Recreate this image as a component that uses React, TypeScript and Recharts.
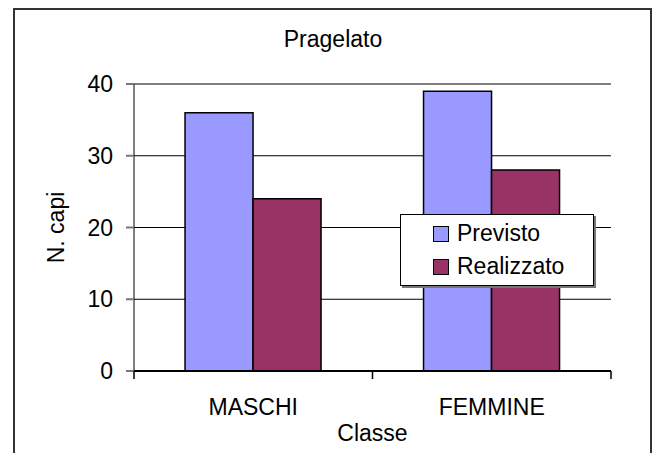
import { BarChart, Bar, XAxis, YAxis, CartesianGrid, Legend } from "recharts";

const categories = ["MASCHI", "FEMMINE"];
const previsto = [36, 39];
const realizzato = [24, 28];
const yTicks = [0, 10, 20, 30, 40];

const data = categories.map((c, i) => ({
  classe: c,
  previsto: previsto[i],
  realizzato: realizzato[i],
}));

const font = "'Liberation Sans', Arial, sans-serif";
const fs = 23;
const xTickMargin = 28;

const series = [
  { key: "previsto", name: "Previsto", color: "#9999FF" },
  { key: "realizzato", name: "Realizzato", color: "#993366" },
];

// category label plus the Excel-style tick marks on the category boundaries
function CategoryTick(props: any) {
  const { x, y, payload, index } = props;
  const half = payload.offset || 0;
  const axisY = y - xTickMargin;
  return (
    <g>
      <line x1={x + half} x2={x + half} y1={axisY} y2={axisY + 8} stroke="#000" strokeWidth={1.5} />
      {index === 0 && (
        <line x1={x - half} x2={x - half} y1={axisY} y2={axisY + 8} stroke="#000" strokeWidth={1.5} />
      )}
      <text x={x} y={y} dy="0.71em" textAnchor="middle" fill="#000" fontSize={fs} fontFamily={font}>
        {payload.value}
      </text>
    </g>
  );
}

function LegendBox() {
  return (
    <div
      style={{
        width: 194,
        height: 72,
        border: "1px solid #000",
        boxShadow: "2px 2px 0 #777",
        background: "#fff",
        fontFamily: font,
        fontSize: fs,
        color: "#000",
        paddingTop: 2,
        boxSizing: "border-box",
      }}
    >
      {series.map((s) => (
        <div key={s.key} style={{ display: "flex", alignItems: "center", height: 33, paddingLeft: 32 }}>
          <span
            style={{
              display: "inline-block",
              width: 14,
              height: 14,
              background: s.color,
              border: "1px solid #000",
              marginRight: 8,
            }}
          />
          {s.name}
        </div>
      ))}
    </div>
  );
}

export default function App() {
  return (
    <div style={{ position: "absolute", left: 0, top: 0, width: 656, height: 453, overflow: "hidden", background: "#fff" }}>
      <div
        style={{
          position: "absolute",
          left: 13,
          top: 8,
          width: 635,
          height: 460,
          border: "2px solid #333",
        }}
      />
      <div
        style={{
          position: "absolute",
          left: 233,
          width: 200,
          top: 26,
          textAlign: "center",
          fontFamily: font,
          fontSize: fs,
        }}
      >
        Pragelato
      </div>
      <div style={{ position: "absolute", left: 0, top: 0 }}>
        <BarChart
          width={656}
          height={453}
          data={data}
          margin={{ top: 84, right: 45, left: 74, bottom: 60 }}
          barCategoryGap="21.4%"
          barGap={0}
        >
          <CartesianGrid horizontal vertical={false} stroke="#000" strokeWidth={1} />
          <XAxis
            dataKey="classe"
            tickLine={false}
            axisLine={{ stroke: "#000", strokeWidth: 2 }}
            tickSize={0}
            tickMargin={xTickMargin}
            tick={<CategoryTick />}
            interval={0}
            height={22}
            label={{ value: "Classe", position: "insideBottom", offset: -48, fill: "#000", fontSize: fs, fontFamily: font }}
          />
          <YAxis
            domain={[0, 40]}
            ticks={yTicks}
            width={60}
            axisLine={{ stroke: "#000", strokeWidth: 1 }}
            tickLine={{ stroke: "#777", strokeWidth: 2 }}
            tickSize={8}
            tickMargin={13}
            tick={{ fill: "#000", fontSize: fs, fontFamily: font }}
            label={{
              value: "N. capi",
              angle: -90,
              position: "insideLeft",
              offset: -18,
              style: { textAnchor: "middle" },
              fill: "#000",
              fontSize: fs,
              fontFamily: font,
            }}
          />
          <YAxis
            yAxisId="right"
            orientation="right"
            width={0}
            tick={false}
            tickLine={false}
            axisLine={{ stroke: "#888", strokeWidth: 2 }}
          />
          {series.map((s) => (
            <Bar
              key={s.key}
              dataKey={s.key}
              name={s.name}
              fill={s.color}
              stroke="#000"
              strokeWidth={1.5}
              isAnimationActive={false}
            />
          ))}
          <Legend
            content={<LegendBox />}
            layout="horizontal"
            verticalAlign="middle"
            align="center"
            wrapperStyle={{ left: 400, top: 214, width: 196 }}
          />
        </BarChart>
      </div>
    </div>
  );
}
